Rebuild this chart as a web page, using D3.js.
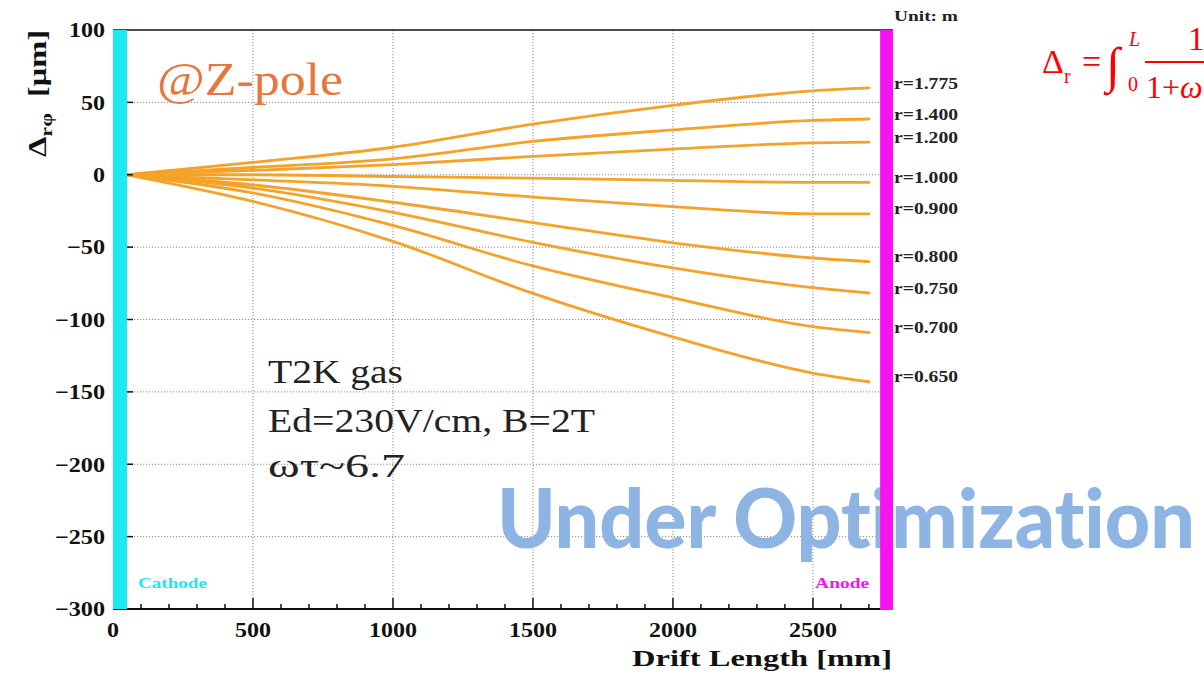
<!DOCTYPE html>
<html>
<head>
<meta charset="utf-8">
<script src="https://cdn.jsdelivr.net/npm/d3@7"></script>
<style>
  html, body { margin: 0; padding: 0; background: #fff; }
  svg { display: block; }
  .serif { font-family: "Liberation Serif", Tinos, "Times New Roman", Times, serif; }
</style>
</head>
<body>
<svg id="chart" width="1204" height="678"></svg>
<script>
// Drift length sample points [mm]
const driftLength = [50, 500, 1000, 1500, 2000, 2500, 2700];

// Radius of each field-distortion track [m]
const radii = ["1.775", "1.400", "1.200", "1.000", "0.900", "0.800", "0.750", "0.700", "0.650"];

// Δrφ displacement [μm] per radius, sampled along driftLength
const delta_1775 = [0, 8.5, 19, 35, 48, 58, 60];
const delta_1400 = [0, 5, 11, 23, 31, 37.5, 38.5];
const delta_1200 = [0, 3, 7, 12.7, 17.7, 22, 22.5];
const delta_1000 = [0, 0, -1.2, -2.3, -3.9, -5.3, -5.3];
const delta_0900 = [0, -3.5, -8, -15.4, -22, -27, -27];
const delta_0800 = [0, -7, -19, -33, -47, -57.5, -60];
const delta_0750 = [0, -9.2, -26, -46.7, -64.4, -78, -81.7];
const delta_0700 = [0, -12.6, -35, -63, -85, -105, -109];
const delta_0650 = [0, -18.4, -46, -82, -112, -137, -143];
const deltas = [delta_1775, delta_1400, delta_1200, delta_1000, delta_0900,
                delta_0800, delta_0750, delta_0700, delta_0650];

// Axis ticks
const xTicks = [0, 500, 1000, 1500, 2000, 2500];
const yTicks = [100, 50, 0, -50, -100, -150, -200, -250, -300];

// Electrode regions [mm]
const cathodeRange = [0, 50];
const anodeRange = [2740, 2786];

const infoLines = ["T2K gas", "Ed=230V/cm, B=2T", "ωτ~6.7"];

const svg = d3.select("#chart");
const plotL = 113, plotR = 893, plotT = 30, plotB = 609;

const x = d3.scaleLinear().domain([0, 2786]).range([plotL, plotR]);
const y = d3.scaleLinear().domain([-300, 100]).range([plotB, plotT]);

// Numbers are drawn slightly wide, like the rest of the figure
const numWidth = s => 12 * s.replace("\u2212", "").length + (s.startsWith("\u2212") ? 14 : 0);

// Dotted grid
const grid = svg.append("g").attr("stroke", "#8a8a8a").attr("stroke-width", 1)
  .attr("stroke-dasharray", "1.2,1.8");
grid.selectAll("line.v").data(xTicks.filter(d => d > 0)).join("line")
  .attr("x1", d => x(d)).attr("x2", d => x(d)).attr("y1", plotT).attr("y2", plotB);
grid.selectAll("line.h").data(yTicks.filter(d => d > -300 && d < 100)).join("line")
  .attr("x1", plotL).attr("x2", plotR).attr("y1", d => y(d)).attr("y2", d => y(d));

// Big status text
svg.append("text")
  .attr("x", 497).attr("y", 548)
  .attr("textLength", 698).attr("lengthAdjust", "spacingAndGlyphs")
  .style("font-family", "Lato, 'Open Sans', sans-serif")
  .style("font-weight", 900).style("font-size", "82px")
  .style("font-variant-ligatures", "none")
  .attr("fill", "#8db4e2")
  .text("Under Optimization");

// Distortion curves
const line = d3.line().x(d => x(d[0])).y(d => y(d[1])).curve(d3.curveMonotoneX);
svg.append("g").selectAll("path").data(deltas).join("path")
  .attr("d", vals => line(driftLength.map((L, i) => [L, vals[i]])))
  .attr("fill", "none").attr("stroke", "#f5a22a").attr("stroke-width", 2.8)
  .attr("stroke-linejoin", "round").attr("stroke-linecap", "round");

// X axis with major and minor ticks
const xAxisG = svg.append("g").attr("transform", `translate(0,${plotB})`);
xAxisG.append("line").attr("x1", plotL).attr("x2", plotR).attr("y1", 0).attr("y2", 0)
  .attr("stroke", "#111").attr("stroke-width", 2);
xAxisG.selectAll("line.minor").data(d3.range(100, 2786, 100)).join("line")
  .attr("x1", d => x(d)).attr("x2", d => x(d)).attr("y1", 0)
  .attr("y2", d => d % 500 === 0 ? -11 : -5)
  .attr("stroke", "#111").attr("stroke-width", 1.5);
xAxisG.selectAll("text").data(xTicks).join("text")
  .attr("class", "serif")
  .attr("x", d => x(d)).attr("y", 28)
  .attr("text-anchor", "middle")
  .attr("textLength", d => numWidth(String(d))).attr("lengthAdjust", "spacingAndGlyphs")
  .style("font-weight", "bold").style("font-size", "20px").attr("fill", "#111")
  .text(d => d);

// Y axis ticks and labels
const yAxisG = svg.append("g");
yAxisG.selectAll("line").data(yTicks.filter(d => d > -300 && d < 100)).join("line")
  .attr("x1", plotL).attr("x2", plotL + 20).attr("y1", d => y(d)).attr("y2", d => y(d))
  .attr("stroke", "#111").attr("stroke-width", 1.5);
yAxisG.selectAll("text").data(yTicks).join("text")
  .attr("class", "serif")
  .attr("x", 105).attr("y", d => y(d)).attr("dy", "0.35em")
  .attr("text-anchor", "end")
  .attr("textLength", d => numWidth(d < 0 ? "\u2212" + Math.abs(d) : String(d)))
  .attr("lengthAdjust", "spacingAndGlyphs")
  .style("font-weight", "bold").style("font-size", "21px").attr("fill", "#111")
  .text(d => d < 0 ? "\u2212" + Math.abs(d) : d);

// Top frame
svg.append("line").attr("x1", plotL).attr("x2", plotR).attr("y1", plotT).attr("y2", plotT)
  .attr("stroke", "#111").attr("stroke-width", 1.5);

// Electrode bars
svg.append("rect")
  .attr("x", x(cathodeRange[0])).attr("width", x(cathodeRange[1]) - x(cathodeRange[0]))
  .attr("y", plotT).attr("height", plotB - plotT).attr("fill", "#1de9f0");
svg.append("rect")
  .attr("x", x(anodeRange[0])).attr("width", x(anodeRange[1]) - x(anodeRange[0]))
  .attr("y", plotT).attr("height", plotB - plotT + 1).attr("fill", "#f514f0");

svg.append("text").attr("class", "serif")
  .attr("x", x(cathodeRange[1]) + 11).attr("y", 588)
  .attr("textLength", 69).attr("lengthAdjust", "spacingAndGlyphs")
  .style("font-weight", "bold").style("font-size", "15px").attr("fill", "#1de9f0")
  .text("Cathode");
svg.append("text").attr("class", "serif")
  .attr("x", x(anodeRange[0]) - 11).attr("y", 588).attr("text-anchor", "end")
  .attr("textLength", 54).attr("lengthAdjust", "spacingAndGlyphs")
  .style("font-weight", "bold").style("font-size", "15px").attr("fill", "#f514f0")
  .text("Anode");

// Radius labels next to the curve ends
svg.append("text").attr("class", "serif")
  .attr("x", 894).attr("y", 21)
  .attr("textLength", 64).attr("lengthAdjust", "spacingAndGlyphs")
  .style("font-weight", "bold").style("font-size", "15px").attr("fill", "#222")
  .text("Unit: m");
svg.append("g").selectAll("text").data(radii).join("text")
  .attr("class", "serif")
  .attr("x", 894)
  .attr("y", (r, i) => y(deltas[i][deltas[i].length - 1]) - 5)
  .attr("dy", "0.35em")
  .style("font-weight", "bold").style("font-size", "16px").attr("fill", "#222")
  .attr("textLength", 64).attr("lengthAdjust", "spacingAndGlyphs")
  .text(r => "r=" + r);

// Axis titles
svg.append("text").attr("class", "serif")
  .attr("x", 892).attr("y", 666).attr("text-anchor", "end")
  .attr("textLength", 260).attr("lengthAdjust", "spacingAndGlyphs")
  .style("font-weight", "bold").style("font-size", "24px").attr("fill", "#111")
  .text("Drift Length [mm]");

const yTitle = svg.append("text").attr("class", "serif")
  .attr("transform", "translate(46,30) rotate(-90)")
  .attr("text-anchor", "end")
  .attr("textLength", 127).attr("lengthAdjust", "spacingAndGlyphs")
  .style("font-weight", "bold").style("font-size", "25px").attr("fill", "#111");
yTitle.append("tspan").text("Δ");
yTitle.append("tspan").attr("dy", 6).style("font-size", "17px").text("rφ");
yTitle.append("tspan").attr("dy", -6).text("\u00a0\u00a0[μm]");

// Annotations
svg.append("text").attr("class", "serif")
  .attr("x", 157).attr("y", 95)
  .attr("textLength", 186).attr("lengthAdjust", "spacingAndGlyphs")
  .style("font-size", "47px").attr("fill", "#e5773f")
  .text("@Z-pole");

const infoWidths = [135, 327, 137];
svg.append("g").selectAll("text").data(infoLines).join("text")
  .attr("class", "serif")
  .attr("x", 268).attr("y", (d, i) => [383, 432, 477][i])
  .attr("textLength", (d, i) => infoWidths[i]).attr("lengthAdjust", "spacingAndGlyphs")
  .style("font-size", "33px").attr("fill", "#222")
  .text(d => d);

// Formula fragment (red) at the top right
const fm = svg.append("g").attr("class", "serif").attr("fill", "#ff0000");
fm.append("text").attr("x", 1042).attr("y", 73).style("font-size", "34px").text("Δ");
fm.append("text").attr("x", 1064).attr("y", 83).style("font-size", "20px").text("r");
fm.append("text").attr("x", 1082).attr("y", 73).style("font-size", "34px").text("=");
fm.append("text").attr("x", 1106).attr("y", 82).style("font-size", "50px").text("∫");
fm.append("text").attr("x", 1129).attr("y", 46).style("font-size", "20px")
  .style("font-style", "italic").text("L");
fm.append("text").attr("x", 1128).attr("y", 91).style("font-size", "20px").text("0");
fm.append("line").attr("x1", 1145).attr("x2", 1204).attr("y1", 62).attr("y2", 62)
  .attr("stroke", "#ff0000").attr("stroke-width", 2);
fm.append("text").attr("x", 1188).attr("y", 50).style("font-size", "33px").text("1");
const den = fm.append("text").attr("x", 1146).attr("y", 98).style("font-size", "32px");
den.append("tspan").text("1+");
den.append("tspan").style("font-style", "italic").text("ω");
</script>
</body>
</html>
